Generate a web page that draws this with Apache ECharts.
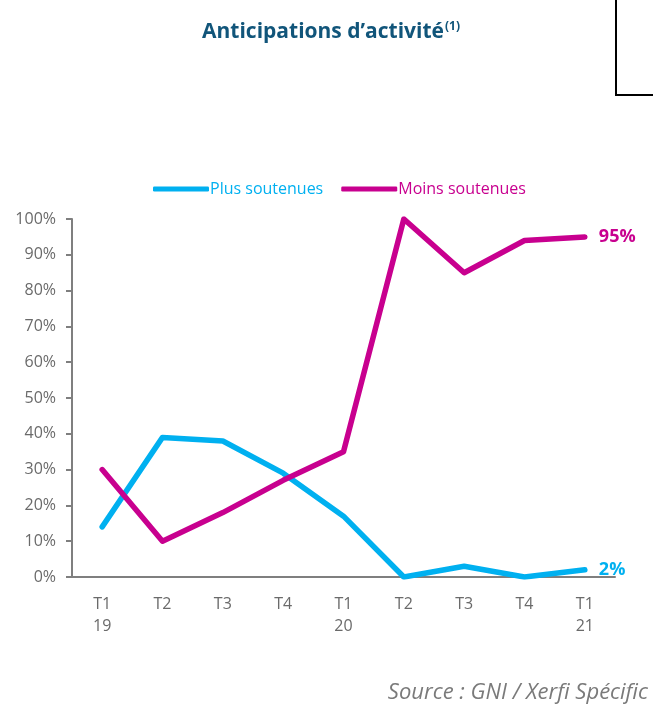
<!DOCTYPE html>
<html><head><meta charset="utf-8">
<script src="https://cdn.jsdelivr.net/npm/echarts@6/dist/echarts.min.js"></script>
<style>html,body{margin:0;padding:0;background:#fff}#c{width:653px;height:707px}</style>
</head><body><div id="c"></div>
<script>
var categories = ['T1\n19','T2','T3','T4','T1\n20','T2','T3','T4','T1\n21'];
var plusSoutenues = [14, 39, 38, 29, 17, 0, 3, 0, 2];
var moinsSoutenues = [30, 10, 18, 27, 35, 100, 85, 94, 95];
var yTicks = [0, 10, 20, 30, 40, 50, 60, 70, 80, 90, 100];

var FONT = 'Open Sans, Lato, sans-serif';
var BLUE = '#00b0f0', PINK = '#c8008f', GREY = '#6a6a6a';
var chart = echarts.init(document.getElementById('c'), null, {renderer:'canvas'});
function endLabel(color){
  return {show:true, formatter:function(p){return p.value+'%';},
    distance:14, color:color, fontWeight:'bold', fontSize:18, fontFamily:FONT};
}
chart.setOption({
  animation:false,
  title:{text:'{a|Anticipations d\u2019activit\u00e9}{b|(1)}', left:326, textAlign:'center', top:16,
    textStyle:{rich:{a:{fontSize:21,fontWeight:'bold',color:'#11557a',fontFamily:FONT},
      b:{fontSize:12,fontWeight:'bold',color:'#11557a',fontFamily:FONT,verticalAlign:'top',padding:[0,0,10,1]}}}},
  legend:{top:176, left:148, itemWidth:56, itemHeight:5, itemGap:18,
    icon:'roundRect',
    data:[{name:'Plus soutenues',textStyle:{color:BLUE}},{name:'Moins soutenues',textStyle:{color:PINK}}],
    textStyle:{fontSize:16,fontFamily:FONT,padding:[0,0,0,-4]}},
  grid:{left:72, right:38, top:219, bottom:130},
  xAxis:{type:'category', data:categories, boundaryGap:true,
    axisLine:{lineStyle:{color:'#7f7f7f',width:2}}, axisTick:{show:false},
    axisLabel:{color:GREY, fontSize:16, fontFamily:FONT, margin:16, lineHeight:22}},
  yAxis:{type:'value', min:0, max:100, interval:10,
    axisLine:{show:true, lineStyle:{color:'#7f7f7f',width:2}},
    axisTick:{show:true, length:6, lineStyle:{color:'#7f7f7f',width:2}},
    splitLine:{show:false},
    axisLabel:{color:GREY, fontSize:16, fontFamily:FONT, margin:16, formatter:function(v){return yTicks.indexOf(v)>=0? v+'%':'';}}},
  series:[
    {name:'Plus soutenues', type:'line', data:plusSoutenues, symbol:'none',
     lineStyle:{color:BLUE,width:5.5,cap:'round',join:'round'}, itemStyle:{color:BLUE}, endLabel:endLabel(BLUE)},
    {name:'Moins soutenues', type:'line', data:moinsSoutenues, symbol:'none',
     lineStyle:{color:PINK,width:5.5,cap:'round',join:'round'}, itemStyle:{color:PINK}, endLabel:endLabel(PINK)}
  ],
  graphic:[
    {type:'polyline', shape:{points:[[616,0],[616,95],[660,95]]}, style:{stroke:'#000',lineWidth:2,fill:null}},
    {type:'text', right:5, top:682, style:{text:'Source : GNI / Xerfi Sp\u00e9cific', fill:'#7a7a7a', fontSize:22, fontStyle:'italic', fontFamily:FONT}}
  ]
});
</script></body></html>
